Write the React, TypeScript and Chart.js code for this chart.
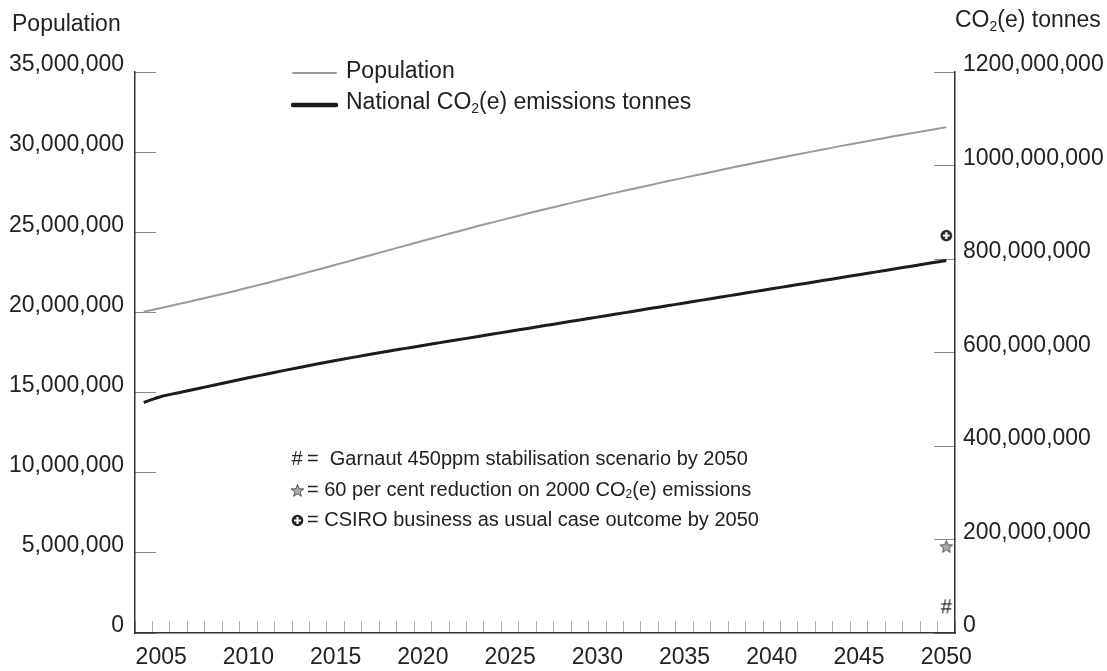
import React, { useEffect, useRef } from 'react';
import { Chart, registerables } from 'chart.js';

Chart.register(...registerables);

const FONT = '"Liberation Sans", Arial, Helvetica, sans-serif';
const TEXT = '#222';

const years = [
  2004, 2005, 2006, 2007, 2008, 2009, 2010, 2011, 2012, 2013, 2014, 2015,
  2016, 2017, 2018, 2019, 2020, 2021, 2022, 2023, 2024, 2025, 2026, 2027,
  2028, 2029, 2030, 2031, 2032, 2033, 2034, 2035, 2036, 2037, 2038, 2039,
  2040, 2041, 2042, 2043, 2044, 2045, 2046, 2047, 2048, 2049, 2050,
];

const population = [
  20.05e6, 20.28e6, 20.52e6, 20.77e6, 21.02e6, 21.28e6, 21.55e6, 21.82e6,
  22.10e6, 22.39e6, 22.68e6, 22.97e6, 23.27e6, 23.57e6, 23.87e6, 24.17e6,
  24.47e6, 24.76e6, 25.05e6, 25.34e6, 25.62e6, 25.90e6, 26.17e6, 26.44e6,
  26.70e6, 26.96e6, 27.21e6, 27.46e6, 27.70e6, 27.94e6, 28.18e6, 28.41e6,
  28.64e6, 28.87e6, 29.10e6, 29.32e6, 29.54e6, 29.76e6, 29.97e6, 30.18e6,
  30.39e6, 30.59e6, 30.79e6, 30.99e6, 31.18e6, 31.37e6, 31.56e6,
];

const emissions = [
  493e6, 506e6, 514e6, 522e6, 530e6, 538e6, 546e6, 553.6e6, 561.2e6, 568.6e6,
  575.8e6, 582.8e6, 589.6e6, 596.2e6, 602.6e6, 608.8e6, 615e6, 621.1e6,
  627.2e6, 633.3e6, 639.4e6, 645.5e6, 651.5e6, 657.6e6, 663.6e6, 669.7e6,
  675.7e6, 681.8e6, 687.8e6, 693.9e6, 699.9e6, 706e6, 712e6, 718.1e6,
  724.1e6, 730.2e6, 736.2e6, 742.3e6, 748.3e6, 754.4e6, 760.4e6, 766.5e6,
  772.5e6, 778.6e6, 784.6e6, 790.7e6, 796.7e6,
];

const markerYear = 2050;
const csiroBau2050 = 850e6;
const sixtyPercentCut = 185e6;
const garnaut450 = 55e6;

const labelYears = [2005, 2010, 2015, 2020, 2025, 2030, 2035, 2040, 2045, 2050];

const popMin = 0;
const popMax = 35e6;
const popStep = 5e6;
const co2Min = 0;
const co2Max = 1200e6;
const co2Step = 200e6;

type Part = { t: string; sub?: boolean };

function drawRich(ctx: CanvasRenderingContext2D, x: number, y: number, parts: Part[], size: number, color = TEXT) {
  ctx.save();
  ctx.textAlign = 'left';
  ctx.textBaseline = 'middle';
  ctx.fillStyle = color;
  let cx = x;
  for (const p of parts) {
    if (p.sub) {
      const s = Math.round(size * 0.62);
      ctx.font = `${s}px ${FONT}`;
      ctx.fillText(p.t, cx, y + size * 0.25);
      cx += ctx.measureText(p.t).width;
    } else {
      ctx.font = `${size}px ${FONT}`;
      ctx.fillText(p.t, cx, y);
      cx += ctx.measureText(p.t).width;
    }
  }
  ctx.restore();
}

function makeStar(): HTMLCanvasElement {
  const c = document.createElement('canvas');
  c.width = 15;
  c.height = 15;
  const g = c.getContext('2d')!;
  g.translate(7.5, 8);
  g.beginPath();
  for (let i = 0; i < 10; i++) {
    const r = i % 2 === 0 ? 6.6 : 2.8;
    const a = -Math.PI / 2 + (i * Math.PI) / 5;
    const px = r * Math.cos(a);
    const py = r * Math.sin(a);
    if (i === 0) g.moveTo(px, py);
    else g.lineTo(px, py);
  }
  g.closePath();
  g.fillStyle = '#a8a8a8';
  g.fill();
  g.strokeStyle = '#555';
  g.lineWidth = 1;
  g.stroke();
  return c;
}

function makeCirclePlus(): HTMLCanvasElement {
  const c = document.createElement('canvas');
  c.width = 13;
  c.height = 13;
  const g = c.getContext('2d')!;
  g.beginPath();
  g.arc(6.5, 6.5, 5.8, 0, Math.PI * 2);
  g.fillStyle = '#222';
  g.fill();
  g.strokeStyle = '#fff';
  g.lineWidth = 2.2;
  g.beginPath();
  g.moveTo(6.5, 3);
  g.lineTo(6.5, 10);
  g.moveTo(3, 6.5);
  g.lineTo(10, 6.5);
  g.stroke();
  return c;
}

function makeHash(): HTMLCanvasElement {
  const c = document.createElement('canvas');
  c.width = 16;
  c.height = 22;
  const g = c.getContext('2d')!;
  g.font = `20px ${FONT}`;
  g.textAlign = 'center';
  g.textBaseline = 'middle';
  g.fillStyle = '#222';
  g.fillText('#', 8, 11);
  return c;
}

export default function App() {
  const canvasRef = useRef<HTMLCanvasElement | null>(null);

  useEffect(() => {
    const canvas = canvasRef.current;
    if (!canvas) return;
    const star = makeStar();
    const circlePlus = makeCirclePlus();
    const hash = makeHash();

    const only2050 = (v: number) => years.map((y) => (y === markerYear ? v : null));

    const overlay = {
      id: 'overlay',
      afterDraw(chart: any) {
        const ctx: CanvasRenderingContext2D = chart.ctx;
        // axis titles
        drawRich(ctx, 12, 25, [{ t: 'Population' }], 23);
        drawRich(ctx, 955, 21, [{ t: 'CO' }, { t: '2', sub: true }, { t: '(e) tonnes' }], 23);

        // legend
        const ds = chart.data.datasets;
        const rows = [
          { d: ds[0], ly: 73, ty: 72, w: 2, parts: [{ t: ds[0].label }] as Part[] },
          {
            d: ds[1],
            ly: 105,
            ty: 103,
            w: 4.5,
            parts: [{ t: 'National CO' }, { t: '2', sub: true }, { t: '(e) emissions tonnes' }] as Part[],
          },
        ];
        for (const r of rows) {
          ctx.save();
          ctx.strokeStyle = r.d.borderColor;
          ctx.lineWidth = r.w;
          ctx.lineCap = 'round';
          ctx.beginPath();
          ctx.moveTo(293, r.ly);
          ctx.lineTo(336, r.ly);
          ctx.stroke();
          ctx.restore();
          drawRich(ctx, 346, r.ty, r.parts, 23);
        }

        // marker notes
        const notes: { img: HTMLCanvasElement; y: number; parts: Part[] }[] = [
          { img: hash, y: 459, parts: [{ t: '=  Garnaut 450ppm stabilisation scenario by 2050' }] },
          {
            img: star,
            y: 490,
            parts: [{ t: '= 60 per cent reduction on 2000 CO' }, { t: '2', sub: true }, { t: '(e) emissions' }],
          },
          { img: circlePlus, y: 520, parts: [{ t: '= CSIRO business as usual case outcome by 2050' }] },
        ];
        for (const n of notes) {
          ctx.drawImage(n.img, Math.round(297 - n.img.width / 2), Math.round(n.y - n.img.height / 2));
          drawRich(ctx, 307, n.y, n.parts, 20);
        }
      },
    };

    const zeroVPad = (s: any) => {
      s.paddingTop = 0;
      s.paddingBottom = 0;
    };

    const chart = new Chart(canvas, {
      type: 'line',
      data: {
        labels: years.map(String),
        datasets: [
          {
            label: 'Population',
            data: population,
            yAxisID: 'yPop',
            borderColor: '#9a9a9a',
            borderWidth: 2,
            pointRadius: 0,
            cubicInterpolationMode: 'monotone',
            fill: false,
          },
          {
            label: 'National CO2(e) emissions tonnes',
            data: emissions,
            yAxisID: 'yCo2',
            borderColor: '#1c1c1c',
            borderWidth: 3,
            pointRadius: 0,
            cubicInterpolationMode: 'monotone',
            fill: false,
          },
          {
            label: 'CSIRO business as usual',
            data: only2050(csiroBau2050),
            yAxisID: 'yCo2',
            showLine: false,
            pointStyle: circlePlus,
            pointRadius: 6,
            borderColor: '#222',
            backgroundColor: '#222',
          },
          {
            label: '60 per cent reduction',
            data: only2050(sixtyPercentCut),
            yAxisID: 'yCo2',
            showLine: false,
            pointStyle: star,
            pointRadius: 7,
            borderColor: '#555',
            backgroundColor: '#999',
          },
          {
            label: 'Garnaut 450ppm',
            data: only2050(garnaut450),
            yAxisID: 'yCo2',
            showLine: false,
            pointStyle: hash,
            pointRadius: 8,
            borderColor: '#222',
            backgroundColor: '#222',
          },
        ] as any,
      },
      options: {
        animation: false,
        responsive: false,
        maintainAspectRatio: false,
        layout: { padding: { top: 72, left: 0, right: 0, bottom: 0 } },
        plugins: {
          legend: { display: false },
          tooltip: { enabled: false },
          title: { display: false },
        },
        scales: {
          x: {
            type: 'category',
            offset: true,
            grid: {
              offset: true,
              drawOnChartArea: false,
              drawTicks: true,
              tickLength: -12,
              color: '#b0b0b0',
              lineWidth: 1,
            },
            border: { display: true, color: '#333', width: 1.5 },
            ticks: {
              autoSkip: false,
              maxRotation: 0,
              minRotation: 0,
              padding: 23,
              color: TEXT,
              font: { family: FONT, size: 23 },
              callback: (_v: any, i: number) => (labelYears.includes(years[i]) ? String(years[i]) : ''),
            },
            afterFit: (s: any) => {
              s.height = 38;
              s.paddingLeft = 0;
              s.paddingRight = 0;
            },
          },
          yPop: {
            type: 'linear',
            position: 'left',
            min: popMin,
            max: popMax,
            grid: {
              drawOnChartArea: false,
              drawTicks: true,
              tickLength: -21,
              color: '#8a8a8a',
              lineWidth: 1,
            },
            border: { display: true, color: '#333', width: 1.5 },
            ticks: {
              stepSize: popStep,
              padding: 32,
              labelOffset: -7,
              color: TEXT,
              font: { family: FONT, size: 23 },
              callback: (v: any) => Number(v).toLocaleString('en-US'),
            },
            afterFit: (s: any) => {
              s.width = 135;
              zeroVPad(s);
            },
          },
          yCo2: {
            type: 'linear',
            position: 'right',
            min: co2Min,
            max: co2Max,
            grid: {
              drawOnChartArea: false,
              drawTicks: true,
              tickLength: -21,
              color: '#8a8a8a',
              lineWidth: 1,
            },
            border: { display: true, color: '#333', width: 1.5 },
            ticks: {
              stepSize: co2Step,
              padding: 29,
              labelOffset: -7,
              color: TEXT,
              font: { family: FONT, size: 23 },
              callback: (v: any) => (Number(v) === 0 ? '0' : `${Number(v) / 1e6},000,000`),
            },
            afterFit: (s: any) => {
              s.width = 152;
              zeroVPad(s);
            },
          },
        },
      } as any,
      plugins: [overlay],
    });

    return () => {
      chart.destroy();
    };
  }, []);

  return (
    <div style={{ position: 'absolute', left: 0, top: 0, width: 1107, height: 671, background: '#fff' }}>
      <canvas ref={canvasRef} width={1107} height={671} style={{ display: 'block' }} />
    </div>
  );
}
